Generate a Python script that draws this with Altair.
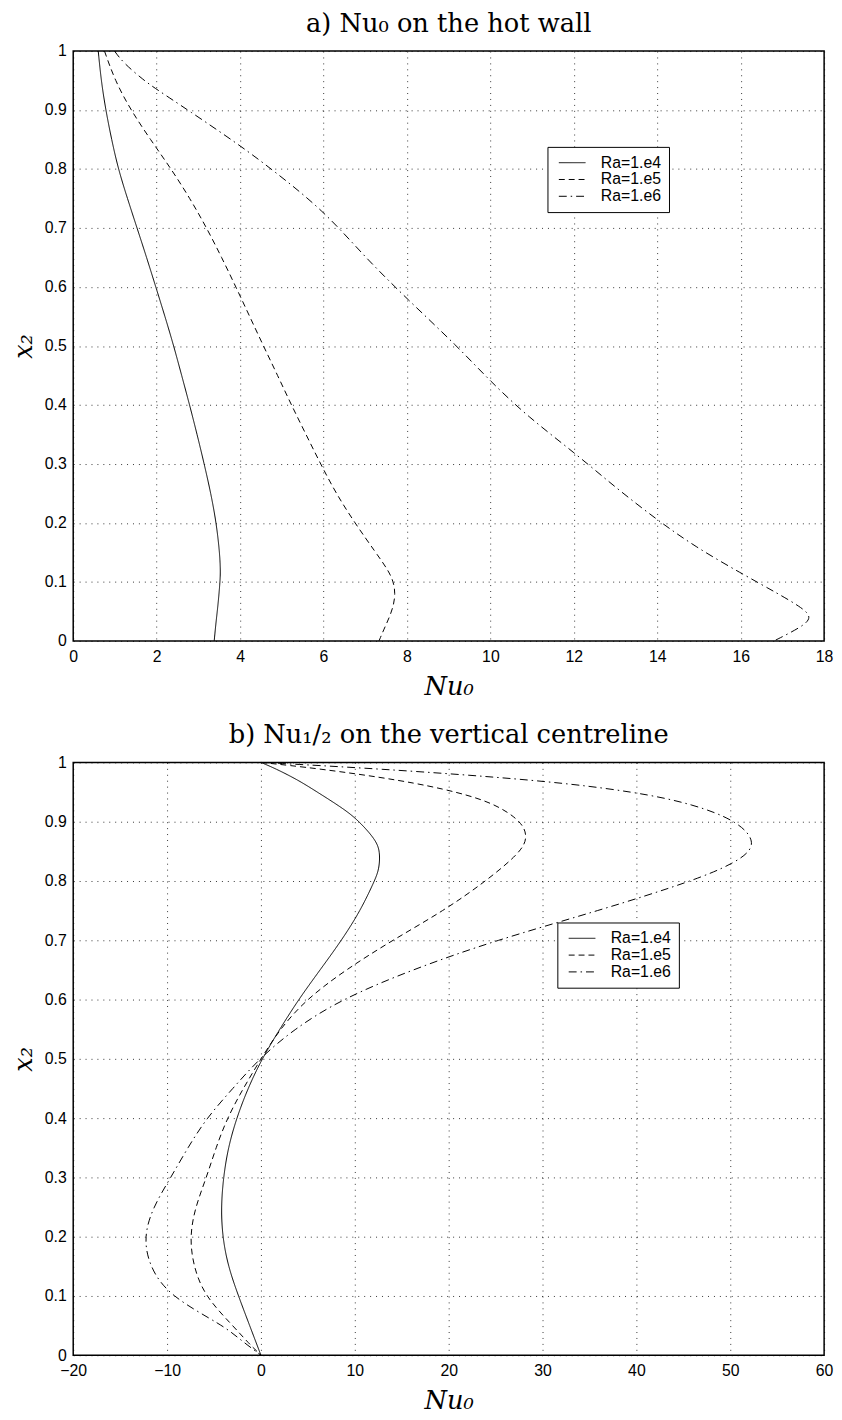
import altair as alt
import pandas as pd

series = ["Ra=1.e4", "Ra=1.e5", "Ra=1.e6"]

# ---- panel a: Nu0 on the hot wall ----
a_e4_y = [1.0, 0.95, 0.9, 0.85, 0.8, 0.75, 0.7, 0.65, 0.6, 0.55, 0.5, 0.45, 0.4, 0.35, 0.3, 0.25, 0.2, 0.15, 0.12, 0.1, 0.06, 0.03, 0.0]
a_e4_x = [0.6, 0.67, 0.78, 0.92, 1.08, 1.3, 1.53, 1.76, 1.98, 2.2, 2.41, 2.6, 2.79, 2.97, 3.14, 3.3, 3.43, 3.51, 3.53, 3.52, 3.47, 3.42, 3.38]

a_e5_y = [1.0, 0.95, 0.9, 0.85, 0.8, 0.75, 0.7, 0.65, 0.6, 0.55, 0.5, 0.45, 0.4, 0.35, 0.3, 0.25, 0.2, 0.15, 0.12, 0.1, 0.08, 0.06, 0.04, 0.02, 0.0]
a_e5_x = [0.75, 1.0, 1.38, 1.85, 2.35, 2.8, 3.2, 3.56, 3.9, 4.23, 4.56, 4.9, 5.23, 5.58, 5.93, 6.3, 6.75, 7.25, 7.55, 7.68, 7.72, 7.68, 7.58, 7.45, 7.33]

a_e6_y = [1.0, 0.98, 0.95, 0.935, 0.9, 0.84, 0.8, 0.73, 0.65, 0.58, 0.5, 0.44, 0.38, 0.32, 0.26, 0.205, 0.16, 0.115, 0.08, 0.055, 0.04, 0.025, 0.0]
a_e6_x = [0.99, 1.2, 1.7, 2.0, 2.75, 4.0, 4.75, 6.0, 7.0, 8.0, 9.2, 10.0, 10.9, 12.0, 13.0, 14.0, 14.9, 16.0, 16.9, 17.5, 17.7, 17.5, 16.8]

# ---- panel b: Nu1/2 on the vertical centreline ----
b_e4_y = [1.0, 0.99, 0.97, 0.95, 0.92, 0.9, 0.87, 0.85, 0.82, 0.8, 0.75, 0.7, 0.65, 0.6, 0.55, 0.5, 0.45, 0.4, 0.35, 0.3, 0.25, 0.2, 0.15, 0.1, 0.05, 0.0]
b_e4_x = [0.0, 1.5, 4.0, 6.0, 9.0, 10.5, 12.2, 12.7, 12.6, 12.1, 10.6, 8.6, 6.3, 4.0, 2.0, 0.1, -1.4, -2.6, -3.5, -4.0, -4.25, -4.1, -3.5, -2.4, -1.2, 0.0]

b_e5_y = [1.0, 0.99, 0.97, 0.95, 0.93, 0.9, 0.875, 0.85, 0.8, 0.75, 0.7, 0.65, 0.6, 0.55, 0.5, 0.45, 0.4, 0.35, 0.3, 0.25, 0.2, 0.15, 0.1, 0.05, 0.02, 0.0]
b_e5_x = [0.0, 6.0, 15.0, 21.0, 25.0, 27.8, 28.4, 27.8, 24.0, 19.5, 14.0, 9.0, 4.8, 2.0, 0.0, -1.9, -3.6, -4.8, -5.8, -7.0, -7.6, -7.2, -6.0, -3.0, -1.3, 0.0]

b_e6_y = [1.0, 0.99, 0.97, 0.95, 0.93, 0.9, 0.86, 0.83, 0.8, 0.75, 0.7, 0.65, 0.6, 0.55, 0.5, 0.45, 0.4, 0.35, 0.3, 0.25, 0.2, 0.15, 0.1, 0.05, 0.03, 0.0]
b_e6_x = [0.0, 12.0, 30.0, 40.0, 46.0, 51.0, 53.0, 50.5, 46.0, 36.0, 25.0, 16.0, 8.5, 3.5, -0.2, -3.0, -5.8, -7.8, -9.6, -11.5, -12.5, -11.9, -9.8, -4.0, -2.5, 0.0]

a_xticks = [0, 2, 4, 6, 8, 10, 12, 14, 16, 18]
b_xticks = [-20, -10, 0, 10, 20, 30, 40, 50, 60]
yticks = [0, 0.1, 0.2, 0.3, 0.4, 0.5, 0.6, 0.7, 0.8, 0.9, 1]


def frame(groups):
    rows = []
    for name, xs, ys in groups:
        for i, (xv, yv) in enumerate(zip(xs, ys)):
            rows.append({"series": name, "x": xv, "y": yv, "i": i})
    return pd.DataFrame(rows)


df_a = frame([(series[0], a_e4_x, a_e4_y), (series[1], a_e5_x, a_e5_y), (series[2], a_e6_x, a_e6_y)])
df_b = frame([(series[0], b_e4_x, b_e4_y), (series[1], b_e5_x, b_e5_y), (series[2], b_e6_x, b_e6_y)])

dash_range = [[1, 0], [6, 4], [8, 4, 1.5, 4]]


def panel(df, xdom, xticks, title, toff, lx, ly, h):
    return alt.Chart(df).mark_line(
        color="black", strokeWidth=1, interpolate="basis"
    ).encode(
        x=alt.X("x:Q", scale=alt.Scale(domain=xdom, nice=False, zero=False),
                axis=alt.Axis(values=xticks, title="Nu₀", labelFlush=False, labelOverlap=False)),
        y=alt.Y("y:Q", scale=alt.Scale(domain=[0, 1], nice=False, zero=False),
                axis=alt.Axis(values=yticks, format="~g", title="x₂", labelOverlap=False,
                              labelPadding=7, titlePadding=8)),
        strokeDash=alt.StrokeDash(
            "series:N",
            scale=alt.Scale(domain=series, range=dash_range),
            legend=alt.Legend(orient="none", legendX=lx, legendY=ly, title=None),
        ),
        order=alt.Order("i:Q"),
    ).properties(
        width=760, height=h,
        title=alt.TitleParams(text=title, font="DejaVu Serif", fontSize=26,
                              fontWeight="normal", color="black", offset=toff, anchor="middle"),
    )


pa = panel(df_a, [0, 18], a_xticks, "a) Nu₀ on the hot wall", 6, 480, 97, 597)
pb = panel(df_b, [-20, 60], b_xticks, "b) Nu₁/₂ on the vertical centreline", 7, 490, 162, 600)

chart = alt.vconcat(pa, pb, spacing=21).resolve_scale(strokeDash="independent").resolve_legend(
    strokeDash="independent"
).properties(
    background="white", padding={"top": -6, "left": 2, "right": 0, "bottom": 0}
).configure_view(
    stroke="black", strokeWidth=1.5
).configure_axis(
    labelFont="Liberation Sans", labelFontSize=16, labelColor="black", labelPadding=8,
    ticks=False, tickSize=0, domain=False,
    grid=True, gridColor="black", gridDash=[1, 5], gridWidth=1, gridOpacity=0.8,
    titleFont="DejaVu Serif", titleFontStyle="italic", titleFontWeight="normal",
    titleFontSize=26, titleColor="black", titlePadding=9,
).configure_legend(
    fillColor="white", strokeColor="black", strokeWidth=1, padding=8,
    labelFont="Liberation Sans", labelFontSize=16, labelColor="black",
    symbolType="M-1,0H5", symbolSize=81, symbolStrokeWidth=1, symbolStrokeColor="black",
    labelOffset=30, rowPadding=1, cornerRadius=0,
)

chart.save("out.html", embed_options={"renderer": "svg", "actions": False})
